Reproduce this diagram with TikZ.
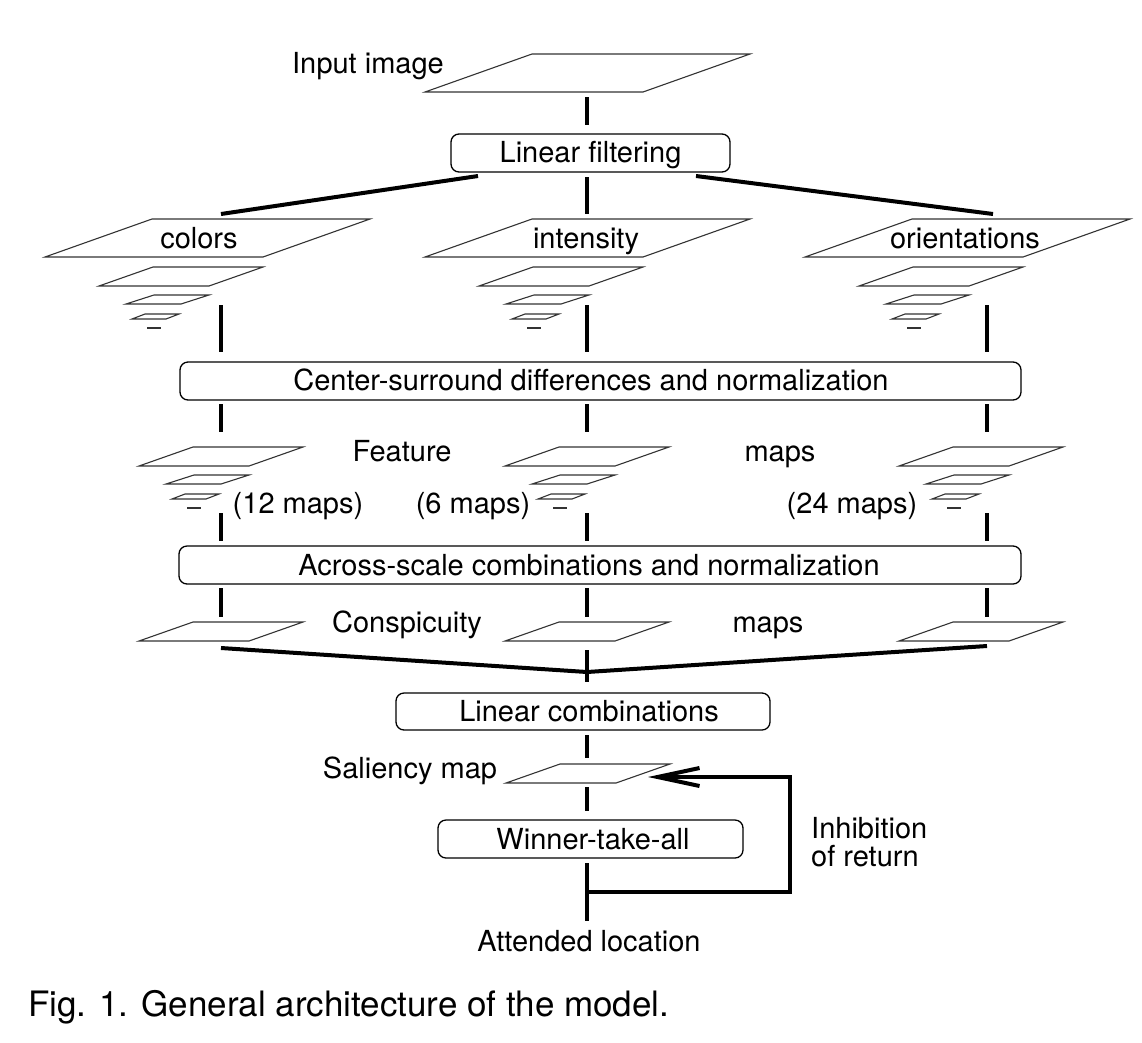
\documentclass[tikz,border=0pt]{standalone}
\usepackage{fontspec}
\setmainfont{TeX Gyre Heros}
\usetikzlibrary{arrows.meta}
\tikzset{
  lbl/.style={inner sep=0pt, anchor=base, font=\fontsize{29}{34}\selectfont},
  caption/.style={inner sep=0pt, anchor=base west, font=\fontsize{35}{40}\selectfont},
  box/.style={draw, line width=1.3pt, rounded corners=8pt, inner sep=0pt, minimum height=38pt},
  seg/.style={line width=3.6pt},
  thickln/.style={line width=4pt},
  plane/.style={draw=black!80, line width=1.1pt, line join=miter},
}
\newcommand\bigplane[2]{\draw[plane] (#1,#2) -- ++(218,0) -- ++(-107,38) -- ++(-218,0) -- cycle;}
\newcommand\midplane[2]{\draw[plane] (#1,#2) -- ++(110,0) -- ++(-54,19) -- ++(-110,0) -- cycle;}
\newcommand\minipyr[2]{\begin{scope}[shift={(#1,#2)}]
  \draw[plane] (0,0) -- (110,0) -- (56,19) -- (-54,19) -- cycle;
  \draw[plane] (1,28) -- (56,28) -- (28,37) -- (-27,37) -- cycle;
  \draw[plane] (-8,47) -- (26,47) -- (13,52) -- (-21,52) -- cycle;
  \draw[plane, line width=1.6pt] (-6,61) -- (8,61);
\end{scope}}
\newcommand\bigpyr[2]{\bigplane{#1}{#2}\minipyr{#1+1}{#2+48}}
\begin{document}
\begin{tikzpicture}[x=1pt,y=-1pt]
\useasboundingbox[fill=white] (0,0) rectangle (1142,1042);

% ---- input image and linear filtering
\bigplane{532}{54}
\node[lbl] (inp) at (368,73) {Input image};
\node[box, minimum width=279pt] (lf) at (590.5,153) {};
\node[lbl] (lft) at (590.5,162) {Linear filtering};
\coordinate (a1) at (587,97);  \coordinate (a2) at (587,125);
\draw[seg] (a1) -- (a2);
\coordinate (b1) at (587,177); \coordinate (b2) at (587,214);
\draw[seg] (b1) -- (b2);
\coordinate (lfl) at (478,176); \coordinate (colt) at (221,214);
\coordinate (lfr) at (696,176); \coordinate (ort) at (993,214);
\draw[thickln] (lfl) -- (colt);
\draw[thickln] (lfr) -- (ort);

% ---- Gaussian pyramids
\bigpyr{152}{219}
\bigpyr{532}{219}
\bigpyr{912}{219}
\node[lbl] (col) at (199,248) {colors};
\node[lbl] (int) at (586,248) {intensity};
\node[lbl] (ori) at (965,248) {orientations};

% ---- center-surround
\node[box, minimum width=841pt] (cs) at (600.5,381) {};
\node[lbl] (cst) at (591,390) {Center-surround differences and normalization};

% ---- feature maps
\minipyr{193}{447}
\minipyr{559}{447}
\minipyr{953}{447}
\node[lbl] (feat) at (402,461) {Feature};
\node[lbl] (fmaps) at (780,461) {maps};
\node[lbl] (m12) at (298,513) {(12 maps)};
\node[lbl] (m6) at (473,513) {(6 maps)};
\node[lbl] (m24) at (852,513) {(24 maps)};

% ---- across-scale
\node[box, minimum width=842pt] (as) at (600,565) {};
\node[lbl] (ast) at (589,575) {Across-scale combinations and normalization};

% ---- conspicuity maps
\midplane{193}{622}
\midplane{559}{622}
\midplane{953}{622}
\node[lbl] (consp) at (407,632) {Conspicuity};
\node[lbl] (cmaps) at (768,632) {maps};

% column segments
\foreach \cx in {221,587,987}{
  \draw[seg] (\cx,305) -- (\cx,352);
  \draw[seg] (\cx,404) -- (\cx,432);
  \draw[seg] (\cx,513) -- (\cx,541);
  \draw[seg] (\cx,588) -- (\cx,617);
}

% V lines
\coordinate (vl) at (221,648); \coordinate (vr) at (987,646); \coordinate (apex) at (587,672);
\draw[thickln, line join=miter] (vl) -- (apex) -- (vr);
\coordinate (c1) at (587,650); \coordinate (c2) at (587,682);
\draw[seg] (c1) -- (c2);

% ---- linear combinations
\node[box, minimum width=374pt, minimum height=37pt] (lc) at (583,711.5) {};
\node[lbl] (lct) at (589,721) {Linear combinations};
\coordinate (d1) at (587,735); \coordinate (d2) at (587,758);
\draw[seg] (d1) -- (d2);

% ---- saliency map
\midplane{560}{764}
\node[lbl] (sal) at (410,778) {Saliency map};
\coordinate (e1) at (587,787); \coordinate (e2) at (587,811);
\draw[seg] (e1) -- (e2);

% ---- winner take all
\node[box, minimum width=305pt] (wta) at (590.5,839) {};
\node[lbl] (wtat) at (593,849) {Winner-take-all};
\coordinate (f1) at (587,863); \coordinate (f2) at (587,921);
\draw[seg] (f1) -- (f2);
\node[lbl] (att) at (589,951) {Attended location};

% ---- inhibition of return
\coordinate (r0) at (587,892); \coordinate (r1) at (790,892);
\coordinate (r2) at (790,777); \coordinate (r3) at (648,777);
\draw[thickln, line join=miter, -{Straight Barb[length=42pt,width=18pt]}] (r0) -- (r1) -- (r2) -- (r3);
\node[lbl, anchor=base west] (inh1) at (811,838) {Inhibition};
\node[lbl, anchor=base west] (inh2) at (811,866) {of return};

% ---- caption
\node[caption] (cap) at (28,1016) {Fig. 1. General architecture of the model.};
\end{tikzpicture}
\end{document}
